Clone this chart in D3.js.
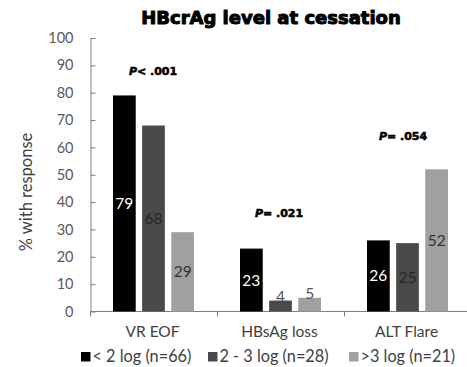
<!DOCTYPE html>
<html>
<head>
<meta charset="utf-8">
<script src="https://cdn.jsdelivr.net/npm/d3@7"></script>
<style>
  html, body { margin: 0; padding: 0; background: #fff; }
  svg { display: block; }
</style>
</head>
<body>
<svg id="chart" width="467" height="367"></svg>
<script>
// Outcome categories and HBcrAg groups
const categories = ["VR EOF", "HBsAg loss", "ALT Flare"];
const groups = ["< 2 log (n=66)", "2 - 3 log (n=28)", ">3 log (n=21)"];
// % with response, one array per group (in category order)
const lowValues = [79, 23, 26];
const midValues = [68, 4, 25];
const highValues = [29, 5, 52];
// P values shown above each category
const pLabels = ["P< .001", "P= .021", "P= .054"];
const yTicks = [0, 10, 20, 30, 40, 50, 60, 70, 80, 90, 100];

const series = [lowValues, midValues, highValues];
const fills = ["#000000", "#4a4a4a", "#a0a0a0"];
const labelColors = ["#ffffff", "#262626", "#333333"];

const svg = d3.select("#chart");
const font = "Lato, 'Open Sans', sans-serif";
const heavy = "'DejaVu Sans', 'Liberation Sans', sans-serif";

const x0 = d3.scaleBand().domain(categories).range([90, 471]).paddingInner(0).paddingOuter(0);
const x1 = d3.scaleBand().domain(d3.range(groups.length)).range([23, 104]).paddingInner(0.22).paddingOuter(0);
const y = d3.scaleLinear().domain([0, 100]).range([311.5, 38]);

// Title
svg.append("text")
  .attr("x", 271).attr("y", 24)
  .attr("text-anchor", "middle")
  .attr("font-family", heavy)
  .attr("font-weight", "bold")
  .attr("font-size", 18)
  .attr("fill", "#000")
  .attr("stroke", "#000").attr("stroke-width", 1)
  .attr("stroke-linejoin", "round")
  .text("HBcrAg level at cessation");

// Y axis
const yAxis = svg.append("g")
  .attr("transform", "translate(90.5,0)")
  .call(d3.axisLeft(y).tickValues(yTicks).tickSize(-5).tickPadding(17).tickSizeOuter(0));
yAxis.select(".domain").attr("stroke", "#7f7f7f");
yAxis.selectAll(".tick line").attr("stroke", "#7f7f7f");
yAxis.selectAll(".tick text")
  .attr("font-family", font).attr("font-size", 14.5).attr("fill", "#595959");

// Y axis title
svg.append("text")
  .attr("transform", "translate(32,192) rotate(-90)")
  .attr("text-anchor", "middle")
  .attr("font-family", font).attr("font-size", 16.5).attr("fill", "#404040")
  .text("% with response");

// X axis with ticks at band boundaries
const xAxisG = svg.append("g").attr("transform", "translate(0,311.5)");
xAxisG.append("line")
  .attr("x1", 90).attr("x2", 471)
  .attr("stroke", "#7f7f7f");
xAxisG.selectAll("line.bound")
  .data(categories)
  .join("line")
  .attr("class", "bound")
  .attr("x1", d => Math.round(x0(d)) + 0.5).attr("x2", d => Math.round(x0(d)) + 0.5)
  .attr("y1", 0).attr("y2", 5)
  .attr("stroke", "#7f7f7f");
xAxisG.selectAll("text")
  .data(categories)
  .join("text")
  .attr("x", d => x0(d) + x0.bandwidth() / 2 - 1)
  .attr("y", 25.5)
  .attr("text-anchor", "middle")
  .attr("font-family", font).attr("font-size", 15.5).attr("fill", "#404040")
  .text(d => d);

// Bars
const barLayer = svg.append("g");
series.forEach((vals, gi) => {
  const g = barLayer.append("g");
  g.selectAll("rect")
    .data(vals)
    .join("rect")
    .attr("x", (d, ci) => x0(categories[ci]) + x1(gi))
    .attr("y", d => y(d))
    .attr("width", x1.bandwidth())
    .attr("height", d => y(0) - y(d))
    .attr("fill", fills[gi]);

  g.selectAll("text")
    .data(vals)
    .join("text")
    .attr("x", (d, ci) => x0(categories[ci]) + x1(gi) + x1.bandwidth() / 2)
    .attr("y", d => {
      const h = y(0) - y(d);
      return h < 20 ? y(d) + 1 : (y(d) + y(0)) / 2 + 5.5;
    })
    .attr("text-anchor", "middle")
    .attr("font-family", font).attr("font-size", 15.5)
    .attr("fill", d => (y(0) - y(d) < 20 ? "#555555" : labelColors[gi]))
    .text(d => d);
});

// P value annotations
const pPos = [[153, 75], [279, 217], [403, 140]];
pLabels.forEach((t, i) => {
  const txt = svg.append("text")
    .attr("x", pPos[i][0]).attr("y", pPos[i][1])
    .attr("text-anchor", "middle")
    .attr("font-family", heavy)
    .attr("font-weight", "bold").attr("font-size", 11)
    .attr("fill", "#000").attr("stroke", "#000").attr("stroke-width", 0.55)
    .attr("stroke-linejoin", "round");
  txt.append("tspan").attr("font-style", "italic").text(t.slice(0, 1));
  txt.append("tspan").text(t.slice(1));
});

// Legend
const legendX = [81, 208, 349];
const legend = svg.append("g");
groups.forEach((name, i) => {
  legend.append("rect")
    .attr("x", legendX[i]).attr("y", 352)
    .attr("width", 9.5).attr("height", 9.5)
    .attr("fill", fills[i]);
  legend.append("text")
    .attr("x", legendX[i] + 11.5).attr("y", 361.5)
    .attr("font-family", font).attr("font-size", 16.3).attr("fill", "#404040")
    .text(name);
});
</script>
</body>
</html>
